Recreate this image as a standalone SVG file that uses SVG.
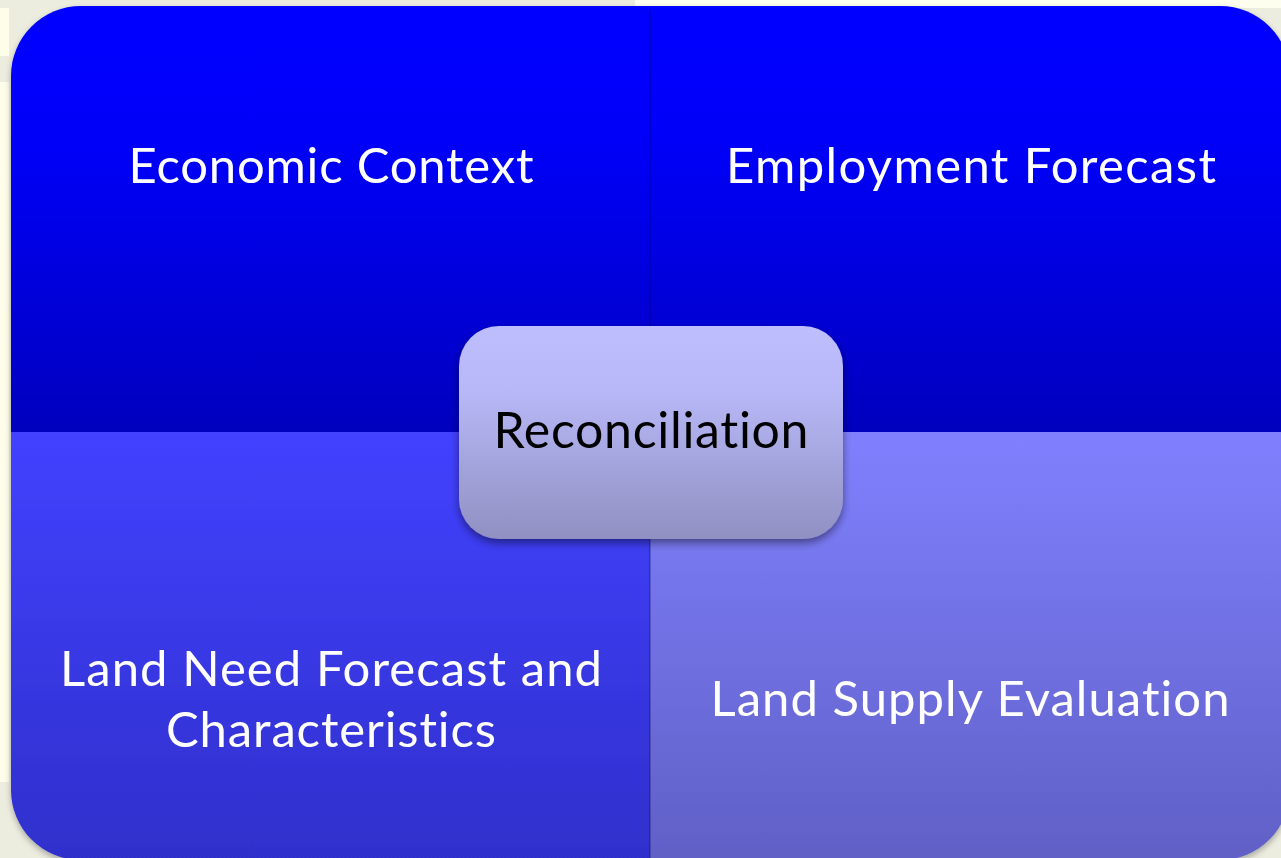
<svg xmlns="http://www.w3.org/2000/svg" width="1281" height="858" viewBox="0 0 1281 858">
<defs>
<linearGradient id="gTop" x1="0" y1="0" x2="0" y2="1">
<stop offset="0" stop-color="#0000FF"/><stop offset="0.3" stop-color="#0000FA"/><stop offset="1" stop-color="#0000BE"/>
</linearGradient>
<linearGradient id="gBL" x1="0" y1="0" x2="0" y2="1">
<stop offset="0" stop-color="#4242FF"/><stop offset="1" stop-color="#2F2FCC"/>
</linearGradient>
<linearGradient id="gBR" x1="0" y1="0" x2="0" y2="1">
<stop offset="0" stop-color="#8080FF"/><stop offset="1" stop-color="#6060C6"/>
</linearGradient>
<linearGradient id="gC" x1="0" y1="0" x2="0" y2="1">
<stop offset="0" stop-color="#BEBEFF"/><stop offset="0.3" stop-color="#B8B8F8"/><stop offset="1" stop-color="#9090C2"/>
</linearGradient>
<filter id="sh" x="-10%" y="-10%" width="120%" height="130%">
<feGaussianBlur in="SourceAlpha" stdDeviation="4"/>
<feOffset dx="0" dy="4" result="b"/>
<feComponentTransfer><feFuncA type="linear" slope="0.45"/></feComponentTransfer>
<feMerge><feMergeNode/><feMergeNode in="SourceGraphic"/></feMerge>
</filter>
<filter id="sh2" x="-5%" y="-5%" width="110%" height="110%">
<feGaussianBlur in="SourceAlpha" stdDeviation="3"/>
<feOffset dx="0" dy="3" result="b"/>
<feComponentTransfer><feFuncA type="linear" slope="0.3"/></feComponentTransfer>
<feMerge><feMergeNode/><feMergeNode in="SourceGraphic"/></feMerge>
</filter>
</defs>
<style>
text{font-variant-ligatures:none;font-feature-settings:"liga" 0,"clig" 0}
.q{font-family:Lato,"Open Sans","Liberation Sans",sans-serif;font-size:49px;fill:#FFFFFF;text-anchor:middle}
.c{font-family:Lato,"Open Sans","Liberation Sans",sans-serif;font-size:50px;fill:#000000;text-anchor:middle}
</style>
<rect x="0" y="0" width="1281" height="858" fill="#ECECDF"/>
<rect x="635" y="0" width="646" height="8" fill="#FEFEEE"/>
<rect x="0" y="8" width="9" height="48" fill="#FDFDEA"/>
<rect x="0" y="82" width="9" height="700" fill="#FDFDEA"/>
<g filter="url(#sh2)">
<g id="q-economic">
<path d="M11,76 A70,70 0 0 1 81,6 L650,6 L650,432 L11,432 Z" fill="url(#gTop)"/>
<text class="q" x="331" y="183" textLength="405">Economic Context</text>
</g>
<g id="q-employment">
<path d="M650,6 L1220,6 A70,70 0 0 1 1290,76 L1290,432 L650,432 Z" fill="url(#gTop)"/>
<text class="q" x="971" y="183" textLength="490">Employment Forecast</text>
</g>
<g id="q-landneed">
<path d="M11,432 L650,432 L650,860 L81,860 A70,70 0 0 1 11,790 Z" fill="url(#gBL)"/>
<text class="q" x="331" y="686" textLength="542">Land Need Forecast and</text>
<text class="q" x="331" y="747" textLength="330">Characteristics</text>
</g>
<g id="q-landsupply">
<path d="M650,432 L1290,432 L1290,790 A70,70 0 0 1 1220,860 L650,860 Z" fill="url(#gBR)"/>
<text class="q" x="970" y="716" textLength="519">Land Supply Evaluation</text>
</g>
</g>
<g id="connectors">
<line x1="650" y1="10" x2="650" y2="858" stroke="#000060" stroke-opacity="0.25" stroke-width="2"/>
</g>
<g id="n-reconciliation" filter="url(#sh)">
<rect x="459" y="326" width="384" height="213" rx="40" ry="40" fill="url(#gC)"/>
<text class="c" x="651" y="448" textLength="315">Reconciliation</text>
</g>
</svg>
